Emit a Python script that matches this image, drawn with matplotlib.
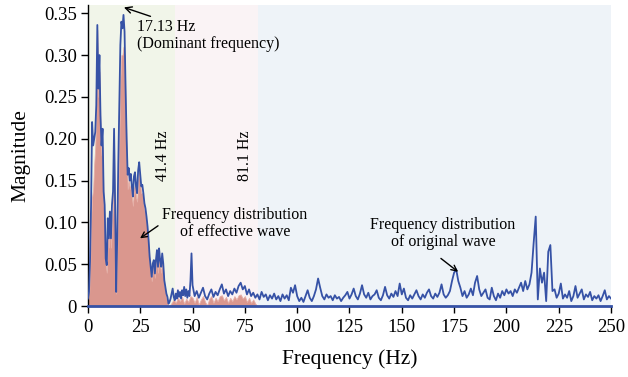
import numpy as np
import matplotlib
matplotlib.use("Agg")
import matplotlib.pyplot as plt

# ---------------- data ----------------
# original wave spectrum: 0-50 Hz at 0.5 Hz step, 51-250 Hz at 1 Hz step
orig_low_freq = np.arange(0, 50.01, 0.5)
orig_low_mag = [
    0.009, 0.017, 0.053, 0.12, 0.22, 0.192, 0.20, 0.208, 0.24, 0.336,
    0.26, 0.30, 0.228, 0.192, 0.212, 0.137, 0.121, 0.057, 0.049, 0.105,
    0.081, 0.113, 0.081, 0.121, 0.137, 0.212, 0.121, 0.017, 0.081, 0.168,
    0.24, 0.312, 0.34, 0.332, 0.348, 0.328, 0.26, 0.20, 0.157, 0.165,
    0.15, 0.158, 0.143, 0.131, 0.155, 0.16, 0.143, 0.135, 0.162, 0.172,
    0.158, 0.143, 0.145, 0.135, 0.123, 0.117, 0.107, 0.095, 0.079, 0.059,
    0.047, 0.035, 0.051, 0.055, 0.039, 0.055, 0.067, 0.047, 0.069, 0.055,
    0.047, 0.063, 0.051, 0.031, 0.023, 0.015, 0.011, 0.003, 0.005, 0.009,
    0.015, 0.021, 0.011, 0.007, 0.015, 0.009, 0.019, 0.011, 0.017, 0.009,
    0.019, 0.013, 0.023, 0.012, 0.02, 0.01, 0.018, 0.012, 0.03, 0.063,
    0.025,
]
orig_high_freq = np.arange(51, 251, 1)
orig_high_mag = [
    0.012, 0.018, 0.01, 0.016, 0.022, 0.012, 0.008, 0.015, 0.02, 0.011,   # 51-60
    0.017, 0.013, 0.02, 0.026, 0.015, 0.02, 0.012, 0.018, 0.014, 0.021,   # 61-70
    0.016, 0.024, 0.028, 0.02, 0.024, 0.014, 0.02, 0.012, 0.016, 0.01,    # 71-80
    0.014, 0.008, 0.017, 0.011, 0.014, 0.007, 0.013, 0.009, 0.015, 0.008, # 81-90
    0.012, 0.006, 0.014, 0.009, 0.013, 0.007, 0.022, 0.016, 0.025, 0.012, # 91-100
    0.006, 0.01, 0.005, 0.012, 0.019, 0.01, 0.006, 0.012, 0.02, 0.033,    # 101-110
    0.022, 0.012, 0.008, 0.014, 0.01, 0.012, 0.007, 0.013, 0.009, 0.011,  # 111-120
    0.006, 0.01, 0.013, 0.017, 0.009, 0.014, 0.021, 0.012, 0.008, 0.015,  # 121-130
    0.025, 0.014, 0.01, 0.016, 0.008, 0.012, 0.014, 0.019, 0.01, 0.007,   # 131-140
    0.013, 0.023, 0.013, 0.009, 0.015, 0.011, 0.018, 0.012, 0.027, 0.014, # 141-150
    0.021, 0.01, 0.007, 0.013, 0.009, 0.014, 0.019, 0.012, 0.008, 0.014,  # 151-160
    0.01, 0.016, 0.02, 0.012, 0.009, 0.015, 0.011, 0.016, 0.026, 0.014,   # 161-170
    0.01, 0.013, 0.018, 0.03, 0.04, 0.044, 0.03, 0.022, 0.012, 0.018,     # 171-180
    0.01, 0.014, 0.021, 0.013, 0.028, 0.036, 0.02, 0.012, 0.016, 0.02,   # 181-190
    0.01, 0.008, 0.022, 0.012, 0.007, 0.015, 0.01, 0.018, 0.013, 0.02,    # 191-200
    0.015, 0.018, 0.012, 0.02, 0.016, 0.022, 0.028, 0.018, 0.03, 0.02,    # 201-210
    0.026, 0.04, 0.075, 0.107, 0.008, 0.045, 0.028, 0.04, 0.006, 0.065,   # 211-220
    0.073, 0.018, 0.02, 0.01, 0.015, 0.027, 0.009, 0.014, 0.01, 0.018,    # 221-230
    0.006, 0.012, 0.024, 0.01, 0.015, 0.02, 0.008, 0.014, 0.011, 0.017,   # 231-240
    0.007, 0.012, 0.009, 0.013, 0.006, 0.012, 0.019, 0.008, 0.012, 0.009, # 241-250
]

# effective wave spectrum: 0-40 Hz at 0.5 Hz step, 41-81 Hz at 1 Hz step
eff_low_freq = np.arange(0, 40.01, 0.5)
eff_low_mag = [
    0.005, 0.01, 0.04, 0.1, 0.13, 0.14, 0.17, 0.19, 0.23, 0.33,
    0.25, 0.28, 0.21, 0.18, 0.19, 0.12, 0.11, 0.05, 0.04, 0.09,
    0.07, 0.1, 0.07, 0.1, 0.12, 0.19, 0.1, 0.015, 0.07, 0.14,
    0.2, 0.27, 0.3, 0.3, 0.31, 0.3, 0.24, 0.19, 0.14, 0.15,
    0.14, 0.145, 0.13, 0.12, 0.14, 0.145, 0.13, 0.125, 0.15, 0.16,
    0.145, 0.135, 0.135, 0.125, 0.115, 0.11, 0.1, 0.088, 0.072, 0.054,
    0.042, 0.03, 0.045, 0.048, 0.034, 0.048, 0.058, 0.04, 0.06, 0.048,
    0.04, 0.052, 0.042, 0.025, 0.018, 0.01, 0.006, 0.0, 0.0, 0.002,
    0.004,
]
eff_high_freq = np.arange(41, 82, 1)
eff_high_mag = [
    0.008, 0.004, 0.01, 0.006, 0.011, 0.003, 0.009, 0.005, 0.012, 0.01,
    0.004, 0.011, 0.002, 0.008, 0.012, 0.005, 0.001, 0.009, 0.012, 0.004,
    0.01, 0.006, 0.012, 0.013, 0.007, 0.011, 0.004, 0.01, 0.006, 0.012,
    0.008, 0.013, 0.014, 0.009, 0.012, 0.005, 0.01, 0.004, 0.008, 0.003,
    0.0,
]

region_edges = [0, 41.4, 81.1, 250]
region_colors = ["#f1f5e9", "#faf3f5", "#eef3f8"]
x_ticks = [0, 25, 50, 75, 100, 125, 150, 175, 200, 225, 250]
y_ticks = [0, 0.05, 0.10, 0.15, 0.20, 0.25, 0.30, 0.35]
y_tick_labels = ["0", "0.05", "0.10", "0.15", "0.20", "0.25", "0.30", "0.35"]

# ---------------- plot ----------------
plt.rcParams['font.family'] = ['Liberation Serif', 'DejaVu Serif']

BLUE = "#3652a6"
RED = "#da978e"

fig = plt.figure(figsize=(6.28, 3.77), dpi=100)
ax = fig.add_axes([0.140, 0.188, 0.833, 0.799])

for i in range(3):
    ax.axvspan(region_edges[i], region_edges[i + 1], color=region_colors[i], lw=0, zorder=0)

orig_f = np.concatenate([orig_low_freq, orig_high_freq])
orig_m = np.concatenate([orig_low_mag, orig_high_mag])
eff_f = np.concatenate([eff_low_freq, eff_high_freq])
eff_m = np.concatenate([eff_low_mag, eff_high_mag])

ax.fill_between(eff_f, 0, eff_m, color=RED, lw=0.6, edgecolor="#e6b0a8", zorder=2)
ax.plot(orig_f, orig_m, color=BLUE, lw=1.3, zorder=3)

ax.set_xlim(0, 250)
ax.set_ylim(0, 0.36)
ax.set_xticks(x_ticks)
ax.set_xticklabels([str(t) for t in x_ticks])
ax.set_yticks(y_ticks)
ax.set_yticklabels(y_tick_labels)
ax.tick_params(axis='both', labelsize=13.5, direction='out', length=5, width=1, colors='black')
ax.tick_params(axis='x', pad=4)
ax.tick_params(axis='y', pad=3)

for s in ['top', 'right']:
    ax.spines[s].set_visible(False)
ax.spines['left'].set_color('black')
ax.spines['left'].set_linewidth(1.0)
ax.spines['bottom'].set_color(BLUE)
ax.spines['bottom'].set_linewidth(2.0)

ax.set_xlabel("Frequency (Hz)", fontsize=15.5, labelpad=10)
ax.set_ylabel("Magnitude", fontsize=15.5, labelpad=10)

ax.text(35.9, 0.18, "41.4 Hz", rotation=90, ha='center', va='center', fontsize=11.5)
ax.text(75.0, 0.18, "81.1 Hz", rotation=90, ha='center', va='center', fontsize=11.5)

arrow = dict(arrowstyle='->', color='black', lw=1.0, shrinkA=0, shrinkB=0)
ax.annotate("17.13 Hz\n(Dominant frequency)", xy=(17.2, 0.357), xytext=(23.4, 0.343),
            ha='left', va='top', fontsize=11.5, arrowprops=arrow, linespacing=1.1)
ax.annotate("", xy=(24.9, 0.081), xytext=(33.5, 0.096), arrowprops=arrow)
ax.text(70.3, 0.119, "Frequency distribution\nof effective wave", ha='center', va='top',
        fontsize=11.5, linespacing=1.1)
ax.annotate("", xy=(176.9, 0.041), xytext=(168.7, 0.057), arrowprops=arrow)
ax.text(169.7, 0.107, "Frequency distribution\nof original wave", ha='center', va='top',
        fontsize=11.5, linespacing=1.1)

fig.savefig("out.png", dpi=100)
